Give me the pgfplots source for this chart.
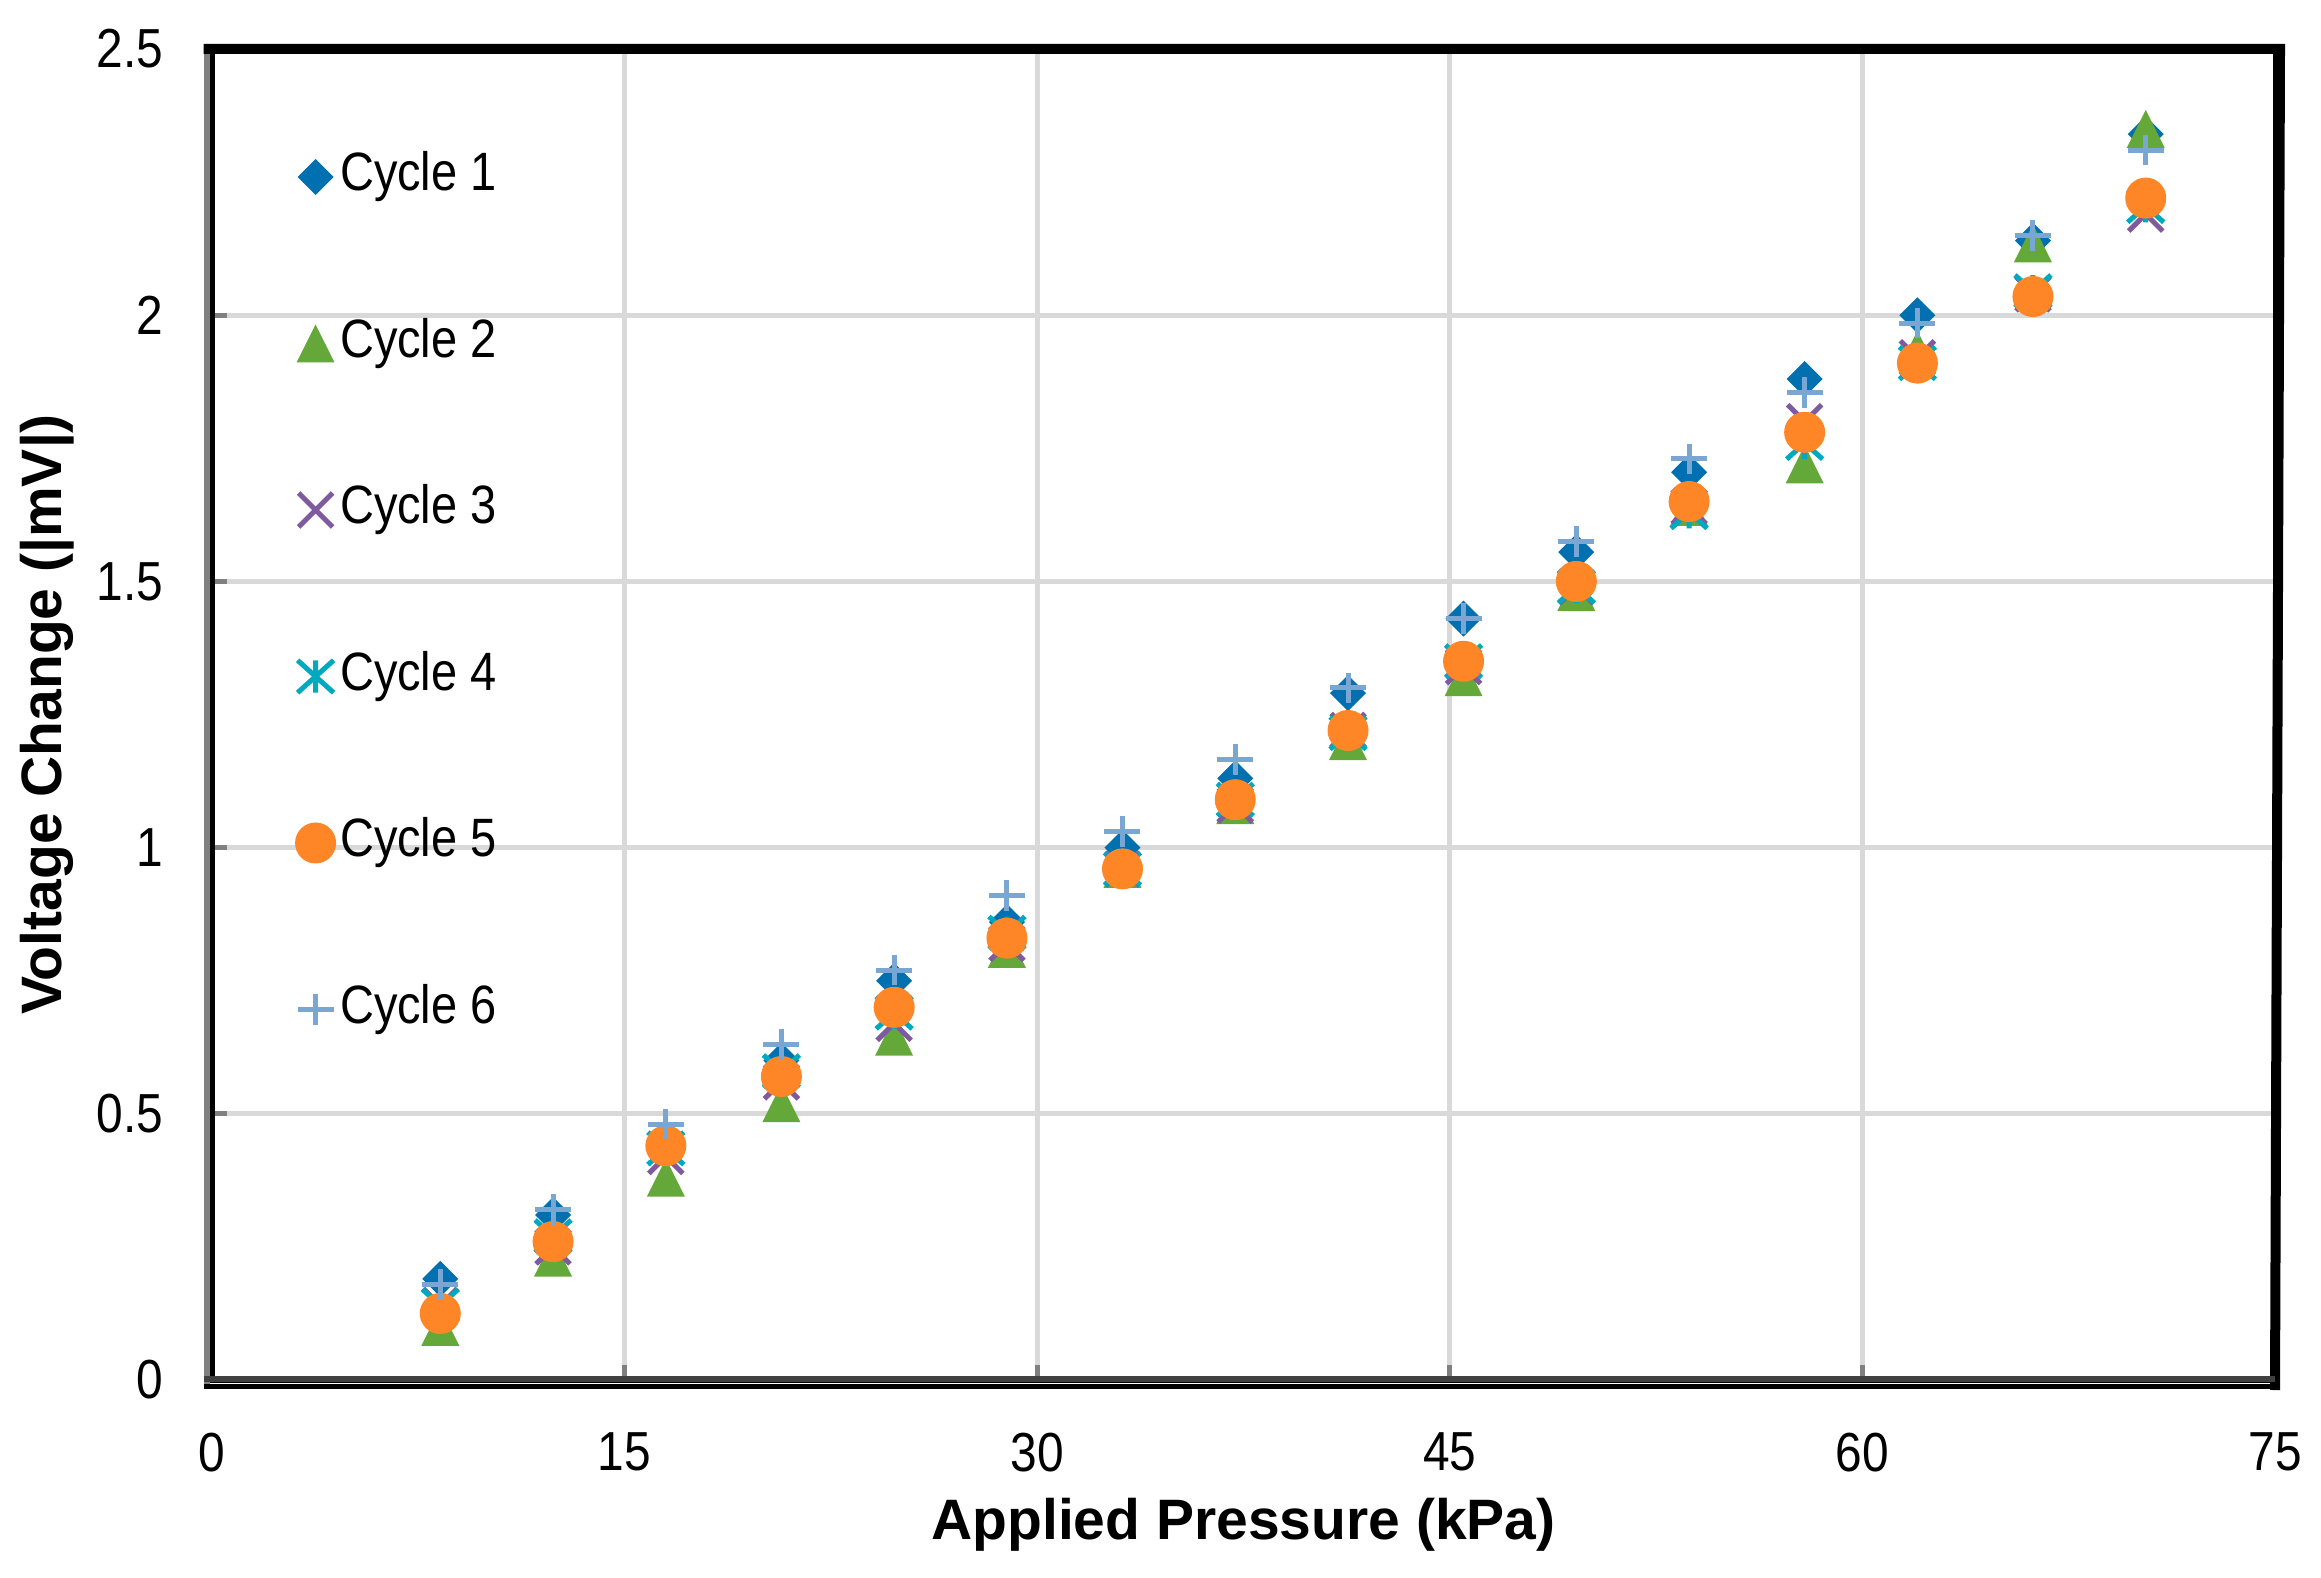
\documentclass[border=0pt]{standalone}
\usepackage{fontspec}
\setmainfont{Liberation Sans}[FakeStretch=0.87]
\newfontfamily\labfont{Liberation Sans}
\usepackage{pgfplots}
\usepackage{pgfplotstable}
\pgfplotsset{compat=1.18}

\definecolor{cA}{RGB}{0,112,176}
\definecolor{cB}{RGB}{100,168,58}
\definecolor{cC}{RGB}{128,90,158}
\definecolor{cD}{RGB}{0,168,192}
\definecolor{cE}{RGB}{255,134,38}
\definecolor{cF}{RGB}{122,166,212}
\definecolor{gridgray}{RGB}{217,217,217}

\pgfdeclareplotmark{sqdiamond}{%
  \pgfpathmoveto{\pgfqpoint{0pt}{\pgfplotmarksize}}%
  \pgfpathlineto{\pgfqpoint{\pgfplotmarksize}{0pt}}%
  \pgfpathlineto{\pgfqpoint{0pt}{-\pgfplotmarksize}}%
  \pgfpathlineto{\pgfqpoint{-\pgfplotmarksize}{0pt}}%
  \pgfpathclose\pgfusepathqfill}
\pgfdeclareplotmark{xltri}{%
  \pgfpathmoveto{\pgfqpoint{0pt}{\pgfplotmarksize}}%
  \pgfpathlineto{\pgfqpoint{\pgfplotmarksize}{-\pgfplotmarksize}}%
  \pgfpathlineto{\pgfqpoint{-\pgfplotmarksize}{-\pgfplotmarksize}}%
  \pgfpathclose\pgfusepathqfill}
\pgfdeclareplotmark{xlcross}{%
  \pgfpathmoveto{\pgfqpoint{-\pgfplotmarksize}{-\pgfplotmarksize}}%
  \pgfpathlineto{\pgfqpoint{\pgfplotmarksize}{\pgfplotmarksize}}%
  \pgfpathmoveto{\pgfqpoint{-\pgfplotmarksize}{\pgfplotmarksize}}%
  \pgfpathlineto{\pgfqpoint{\pgfplotmarksize}{-\pgfplotmarksize}}%
  \pgfusepathqstroke}
\pgfdeclareplotmark{xlstar}{%
  \pgfpathmoveto{\pgfqpoint{-\pgfplotmarksize}{-0.9\pgfplotmarksize}}%
  \pgfpathlineto{\pgfqpoint{\pgfplotmarksize}{0.9\pgfplotmarksize}}%
  \pgfpathmoveto{\pgfqpoint{-\pgfplotmarksize}{0.9\pgfplotmarksize}}%
  \pgfpathlineto{\pgfqpoint{\pgfplotmarksize}{-0.9\pgfplotmarksize}}%
  \pgfpathmoveto{\pgfqpoint{0pt}{-0.9\pgfplotmarksize}}%
  \pgfpathlineto{\pgfqpoint{0pt}{0.9\pgfplotmarksize}}%
  \pgfusepathqstroke}
\pgfdeclareplotmark{xlplus}{%
  \pgfpathmoveto{\pgfqpoint{-\pgfplotmarksize}{0pt}}%
  \pgfpathlineto{\pgfqpoint{\pgfplotmarksize}{0pt}}%
  \pgfpathmoveto{\pgfqpoint{0pt}{-0.85\pgfplotmarksize}}%
  \pgfpathlineto{\pgfqpoint{0pt}{0.85\pgfplotmarksize}}%
  \pgfusepathqstroke}

\pgfplotstableread{
x     c1     c2     c3    c4     c5     c6
8.3   0.19   0.10   0.14  0.14   0.125  0.18
12.4  0.31   0.23   0.25  0.27   0.26   0.32
16.5  0.43   0.38   0.42  0.435  0.44   0.48
20.7  0.60   0.52   0.56  0.58   0.57   0.63
24.8  0.75   0.645  0.67  0.69   0.70   0.77
28.9  0.86   0.81   0.82  0.84   0.83   0.91
33.1  1.00   0.96   0.96  0.96   0.96   1.03
37.2  1.13   1.08   1.08  1.09   1.09   1.165
41.3  1.29   1.20   1.22  1.215  1.22   1.30
45.5  1.43   1.32   1.34  1.35   1.35   1.43
49.6  1.555  1.48   1.49  1.49   1.50   1.575
53.7  1.705  1.64   1.64  1.63   1.65   1.73
57.9  1.88   1.72   1.80  1.76   1.78   1.855
62.0  2.00   1.935  1.92  1.91   1.91   1.985
66.2  2.14   2.135  2.04  2.045  2.035  2.15
70.3  2.34   2.35   2.19  2.205  2.22   2.31
}\datatable

\begin{document}
\begin{tikzpicture}
\begin{axis}[
  name=ax,
  scale only axis,
  width=412.6pt, height=266.2pt,
  xmin=0, xmax=75, ymin=0, ymax=2.5,
  xtick={0,15,30,45,60,75},
  ytick={0,0.5,1,1.5,2,2.5},
  scaled ticks=false,
  /pgf/number format/assume math mode=true,
  grid=major,
  major grid style={draw=gridgray, line width=1pt},
  tick align=inside,
  tick pos=left,
  major tick length=3pt,
  tick style={draw=gray, line width=1pt},
  axis line style={draw=none},
  ticklabel style={font=\fontsize{11}{12}\selectfont},
  yticklabel style={xshift=-6.2pt},
  xticklabel style={yshift=-7pt},
  xlabel={\labfont\bfseries Applied Pressure (kPa)},
  ylabel={\labfont\bfseries Voltage Change (|mV|)},
  label style={font=\fontsize{11.4}{13}\selectfont},
  xlabel style={at={(axis description cs:0.5,0)}, anchor=center, yshift=-29pt},
  ylabel style={at={(axis description cs:0,0.5)}, anchor=center, rotate=0, yshift=33pt},
  legend cell align=left,
  legend style={draw=none, fill=none,
    at={(axis description cs:0.033,0.9356)}, anchor=north west,
    font=\fontsize{10.8}{12}\selectfont,
    nodes={inner sep=1pt, text height=8pt, text depth=2.5pt},
    row sep=20.8pt, column sep=0pt},
  every axis plot/.append style={
    legend image code/.code={\draw[##1] plot coordinates {(3.8pt,0pt)};}},
]
\addplot[only marks, mark=sqdiamond, mark size=3.6pt, color=cA, fill=cA] table[x=x, y=c1] {\datatable};
\addlegendentry{Cycle 1}
\addplot[only marks, mark=xltri, mark size=3.8pt, color=cB, fill=cB] table[x=x, y=c2] {\datatable};
\addlegendentry{Cycle 2}
\addplot[only marks, mark=xlcross, mark size=3.4pt, color=cC, line width=1pt] table[x=x, y=c3] {\datatable};
\addlegendentry{Cycle 3}
\addplot[only marks, mark=xlstar, mark size=3.6pt, color=cD, line width=1pt] table[x=x, y=c4] {\datatable};
\addlegendentry{Cycle 4}
\addplot[only marks, mark=*, mark size=3.9pt, color=cE, fill=cE, mark options={draw=none}] table[x=x, y=c5] {\datatable};
\addlegendentry{Cycle 5}
\addplot[only marks, mark=xlplus, mark size=3.6pt, color=cF, line width=1pt] table[x=x, y=c6] {\datatable};
\addlegendentry{Cycle 6}
\end{axis}
% frame
\draw[black, line width=1pt] (ax.south west) rectangle (ax.north east);
\draw[gray, line width=1.2pt] ([xshift=-1.1pt,yshift=-1pt]ax.south west) -- ([xshift=-1.1pt,yshift=1pt]ax.north west);
\draw[black, line width=2pt] ([xshift=-1.7pt]ax.north west) -- ([xshift=1pt]ax.north east) -- ([xshift=0pt, yshift=-2pt]ax.south east);
\draw[black!75, line width=1.3pt] ([xshift=-1.7pt,yshift=0.2pt]ax.south west) -- ([yshift=0.2pt]ax.south east);
\draw[black, line width=1pt] ([xshift=-1.7pt,yshift=-1.3pt]ax.south west) -- ([xshift=1pt,yshift=-1.3pt]ax.south east);
\pgfresetboundingbox
\path[use as bounding box] ([shift={(-42.4pt,-39.4pt)}]ax.south west) rectangle ([shift={(9.2pt,9.8pt)}]ax.north east);
\end{tikzpicture}
\end{document}
